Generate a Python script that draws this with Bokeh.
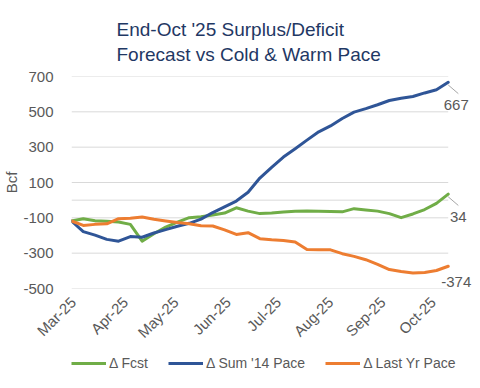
import pandas as pd
from math import pi
from bokeh.plotting import figure
from bokeh.layouts import column
from bokeh.models import (Range1d, FixedTicker, DatetimeTickFormatter, NumeralTickFormatter,
                          Legend, LegendItem, Label, Arrow, Title, ColumnDataSource)
from bokeh.embed import file_html
from bokeh.resources import INLINE

# ---------------- data ----------------
FIRST_WEEK = "2025-02-28"
MONTH_TICKS = ["2025-03-01", "2025-04-01", "2025-05-01", "2025-06-01",
               "2025-07-01", "2025-08-01", "2025-09-01", "2025-10-01"]
Y_TICKS = [-500, -300, -100, 100, 300, 500, 700]

FCST = [-118, -105, -117, -120, -124, -137, -232, -190, -152, -124, -99, -94, -84,
        -73, -43, -62, -76, -73, -67, -63, -61, -63, -64, -66, -48, -55, -62, -76,
        -99, -78, -53, -18, 34]
SUM14 = [-118, -178, -198, -222, -232, -206, -210, -186, -167, -148, -131, -107, -70,
         -38, -5, 45, 125, 186, 244, 291, 340, 387, 420, 462, 498, 518, 540, 564,
         577, 587, 607, 625, 667]
LASTYR = [-118, -143, -137, -134, -105, -102, -95, -108, -118, -127, -133, -145, -146,
          -168, -194, -184, -218, -224, -228, -237, -279, -280, -281, -303, -318, -337,
          -363, -393, -404, -412, -409, -398, -374]

SERIES_NAMES = ["\u0394 Fcst", "\u0394 Sum '14 Pace", "\u0394 Last Yr Pace"]
COLORS = ["#70AD47", "#2F5597", "#ED7D31"]
TITLE_LINES = ["End-Oct '25 Surplus/Deficit", "Forecast vs Cold & Warm Pace"]
Y_LABEL = "Bcf"
AXIS_CROSS = 0

# ---------------- main figure ----------------
dates = pd.date_range(FIRST_WEEK, periods=len(FCST), freq="7D")
src = ColumnDataSource(dict(date=dates, fcst=FCST, sum14=SUM14, lastyr=LASTYR))
COLS = ["fcst", "sum14", "lastyr"]

FONT = "Liberation Sans"
GRAY = "#595959"
GRID = "#D9D9D9"
RIGHT_PAD = pd.Timedelta(days=18)   # room for the end-of-line labels

p = figure(x_axis_type="datetime", output_backend="svg", toolbar_location=None,
           frame_width=407, frame_height=212,
           x_range=Range1d(dates[0], dates[-1] + RIGHT_PAD),
           y_range=Range1d(Y_TICKS[0], Y_TICKS[-1]),
           min_border_left=71, min_border_right=2, min_border_top=76, min_border_bottom=62)
p.outline_line_color = None
p.background_fill_color = "white"
p.border_fill_color = "white"

p.add_layout(Title(text="\n".join(TITLE_LINES), align="left", offset=45, standoff=23,
                   text_font=FONT, text_font_size="19px", text_font_style="normal",
                   text_color="#1F3864", text_line_height=1.2), "above")

# axes
p.yaxis.ticker = FixedTicker(ticks=Y_TICKS)
p.yaxis.formatter = NumeralTickFormatter(format="0")
p.yaxis.axis_line_color = None
p.yaxis.major_tick_line_color = None
p.yaxis.minor_tick_line_color = None
p.yaxis.major_label_text_font = FONT
p.yaxis.major_label_text_font_size = "15px"
p.yaxis.major_label_text_color = GRAY
p.yaxis.major_label_standoff = 12
p.yaxis.axis_label = Y_LABEL
p.yaxis.axis_label_text_font = FONT
p.yaxis.axis_label_text_font_size = "15px"
p.yaxis.axis_label_text_font_style = "normal"
p.yaxis.axis_label_text_color = GRAY
p.yaxis.axis_label_standoff = 0

month_ms = [pd.Timestamp(m).value // 10**6 for m in MONTH_TICKS]
p.xaxis.ticker = FixedTicker(ticks=month_ms)
fmt = "%b-%y"
p.xaxis.formatter = DatetimeTickFormatter(milliseconds=fmt, seconds=fmt, minsec=fmt, minutes=fmt,
                                          hourmin=fmt, hours=fmt, days=fmt, months=fmt, years=fmt)
p.xaxis.axis_line_color = None
p.xaxis.major_tick_line_color = None
p.xaxis.minor_tick_line_color = None
p.xaxis.major_label_orientation = pi / 4
p.xaxis.major_label_text_font = FONT
p.xaxis.major_label_text_font_size = "15px"
p.xaxis.major_label_text_color = GRAY
p.xaxis.major_label_standoff = 5

# gridlines only across the data span (like the source chart)
p.xgrid.grid_line_color = None
p.ygrid.grid_line_color = None
grid_vals = Y_TICKS + [AXIS_CROSS]
p.segment(x0=[dates[0]] * len(grid_vals), x1=[dates[-1]] * len(grid_vals),
          y0=grid_vals, y1=grid_vals, line_color=GRID, line_width=1)

# series lines
for col, color in zip(COLS, COLORS):
    p.line("date", col, source=src, line_color=color, line_width=3,
           line_join="round", line_cap="round")

# end labels
last_x = dates[-1]
day = pd.Timedelta(days=1)
ends = [(FCST[-1], 10, -23, True), (SUM14[-1], 8, -23, True), (LASTYR[-1], 8, -16, False)]
for val, dx, dy, leader in ends:
    p.add_layout(Label(x=last_x, y=val, text=f"{val:d}", x_offset=dx, y_offset=dy,
                       text_align="center", text_baseline="middle", text_font=FONT,
                       text_font_size="15px", text_color=GRAY))
    if leader:
        p.add_layout(Arrow(end=None, x_start=last_x, y_start=val - 15,
                           x_end=last_x + 6 * day, y_end=val - 64,
                           line_color="#A6A6A6", line_width=1))

# ---------------- legend strip ----------------
# the strip's frame is aligned with the main frame by the column layout
leg_fig = figure(width=480, height=38, output_backend="svg", toolbar_location=None,
                 x_axis_location=None, y_axis_location=None,
                 x_range=Range1d(0, 1), y_range=Range1d(0, 1),
                 min_border_left=0, min_border_right=0, min_border_top=0, min_border_bottom=0)
leg_fig.outline_line_color = None
leg_fig.xgrid.grid_line_color = None
leg_fig.ygrid.grid_line_color = None
leg_renderers = [leg_fig.line("date", col, source=src, line_color=c, line_width=3)
                 for col, c in zip(COLS, COLORS)]
legend = Legend(items=[LegendItem(label=n, renderers=[r]) for n, r in zip(SERIES_NAMES, leg_renderers)],
                orientation="horizontal", location=(0, 17), padding=0, margin=0,
                spacing=20, glyph_width=35, glyph_height=16, label_height=16,
                label_standoff=3, label_text_font=FONT, label_text_font_size="14px",
                label_text_color=GRAY, border_line_color=None, background_fill_alpha=0)
leg_fig.add_layout(legend, "center")

layout = column(p, leg_fig, spacing=0)
open("out.html", "w").write(file_html(layout, INLINE))
